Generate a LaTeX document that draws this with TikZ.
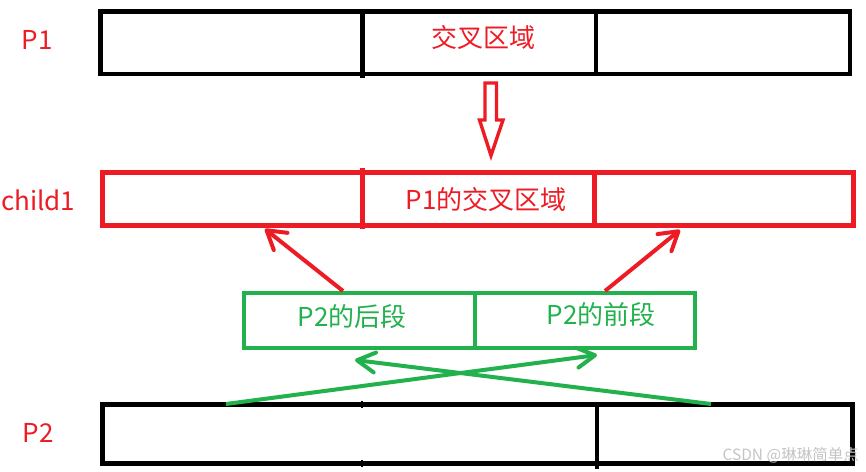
\documentclass[tikz,border=0pt]{standalone}
\usepackage{fontspec}
\setmainfont{Noto Sans CJK SC}
\usetikzlibrary{arrows.meta}

\definecolor{paintred}{HTML}{ED1C24}
\definecolor{paintgreen}{HTML}{22B14C}
\definecolor{markgray}{HTML}{C4C4C4}

\tikzset{
  blackbar/.style={draw=black, line width=4.8pt},
  redbar/.style={draw=paintred, line width=4.8pt},
  greenbox/.style={draw=paintgreen, line width=4.2pt},
  redlabel/.style={text=paintred, inner sep=0pt, font=\fontsize{26}{30}\selectfont},
  greenlabel/.style={text=paintgreen, inner sep=0pt, font=\fontsize{26}{30}\selectfont},
  marklabel/.style={text=markgray, inner sep=0pt, font=\fontsize{15.5}{18}\selectfont},
  redarrow/.style={draw=paintred, line width=4pt,
    -{Straight Barb[length=18pt, width=22pt, round]}},
  greenarrow/.style={draw=paintgreen, line width=4pt,
    -{Straight Barb[length=18pt, width=20pt, round]}},
  hollowarrow/.style={draw=paintred, line width=3.4pt, line join=miter},
}

\begin{document}
\begin{tikzpicture}[x=1pt, y=-1pt]

% ----------------- Canvas (pixel units, y pointing down) -----------------
\useasboundingbox (0,0) rectangle (866,471);

% ----------------- Key points -----------------
\def\cutA{362.3}     % first cut of the chromosomes
\def\cutB{596}       % second cut of the chromosomes

% red arrows: green box top -> child1 bottom
\coordinate (backTop)   at (343,291);
\coordinate (childL)    at (265,229);
\coordinate (frontTop)  at (605,291);
\coordinate (childR)    at (680,230);

% green crossing arrows: P2 top -> under green box
\coordinate (p2L)       at (226,404);
\coordinate (underR)    at (597,355);
\coordinate (p2R)       at (711,404);
\coordinate (underL)    at (355,360);

% ----------------- P1 (black) -----------------
\draw[blackbar] (100.5,11.5) rectangle (850,74);
\draw[blackbar] (\cutA,11.5) -- (\cutA,78);
\draw[blackbar] (\cutB,11.5) -- (\cutB,74);

% ----------------- Hollow arrow P1 -> child1 -----------------
\draw[hollowarrow]
  (485,83) -- (496.5,83) -- (496.5,120) -- (503,120)
  -- (491,155.5) -- (479.5,120) -- (485,120) -- cycle;

% ----------------- child1 (red) -----------------
\draw[redbar] (102.5,172.5) rectangle (853.4,225.5);
\draw[redbar] (\cutA,168) -- (\cutA,229);
\draw[redbar] (594.3,172.5) -- (594.3,225.5);

% ----------------- P2 segments (green) -----------------
\draw[greenbox] (244,293) rectangle (695,348);
\draw[greenbox] (475,293) -- (475,348);

% ----------------- P2 (black) -----------------
\draw[blackbar] (102.5,404.3) rectangle (852.5,463.4);
\draw[blackbar] (597,404.3) -- (597,469);
\draw[black, line width=2pt] (\cutA,401) -- (\cutA,408);
\draw[black, line width=2pt] (\cutA,460) -- (\cutA,467);

% ----------------- Arrows -----------------
\draw[redarrow] (backTop) -- (childL);
\draw[redarrow] (frontTop) -- (childR);
\draw[greenarrow] (p2L) -- (underR);
\draw[greenarrow] (p2R) -- (underL);

% ----------------- Labels -----------------
\node[redlabel] (p1name)    at (37,40)   {P1};
\node[redlabel] (p1mid)     at (483,38)  {交叉区域};
\node[redlabel, anchor=west] (childname) at (1,200) {child1};
\node[redlabel] (childmid)  at (486,200) {P1的交叉区域};
\node[greenlabel] (backhalf)  at (352,317) {P2的后段};
\node[greenlabel] (fronthalf) at (601,315) {P2的前段};
\node[redlabel] (p2name)    at (38,433)  {P2};
\node[marklabel, anchor=east] (csdn) at (859,455) {CSDN @琳琳简单点};

\end{tikzpicture}
\end{document}
